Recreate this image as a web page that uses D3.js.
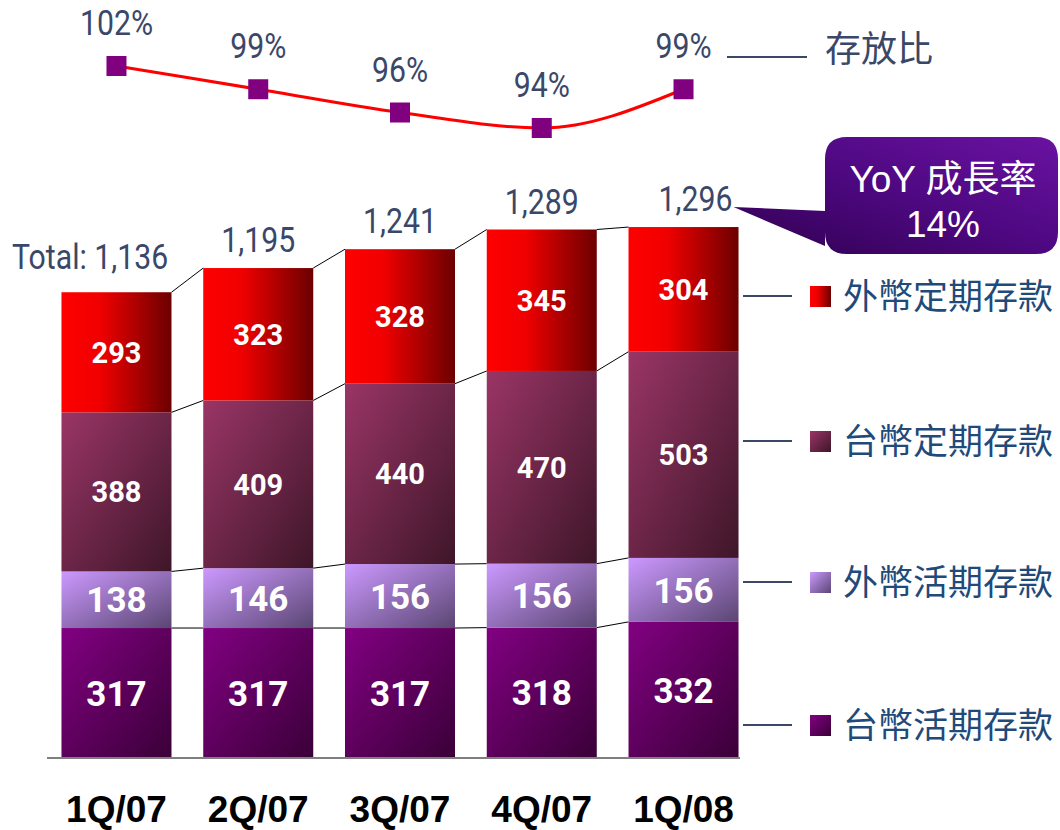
<!DOCTYPE html>
<html>
<head>
<meta charset="utf-8">
<script src="https://cdn.jsdelivr.net/npm/d3@7.9.0/dist/d3.min.js"></script>
<style>
  body { margin: 0; background: #fff; }
  svg { display: block; }
</style>
</head>
<body>
<svg id="chart" width="1060" height="830"></svg>
<script>
// quarters and deposit series (NT$ bn)
const quarters = ['1Q/07', '2Q/07', '3Q/07', '4Q/07', '1Q/08'];
const ntdDemand = [317, 317, 317, 318, 332];   // 台幣活期存款
const fxDemand = [138, 146, 156, 156, 156];    // 外幣活期存款
const ntdTime = [388, 409, 440, 470, 503];     // 台幣定期存款
const fxTime = [293, 323, 328, 345, 304];      // 外幣定期存款
const totals = [1136, 1195, 1241, 1289, 1296];
const ldr = [102, 99, 96, 94, 99];             // 存放比 %
const seriesNames = ['台幣活期存款', '外幣活期存款', '台幣定期存款', '外幣定期存款'];
const yoyText = ['YoY 成長率', '14%'];

const svg = d3.select('#chart');
const numFont = 'Roboto, "Liberation Sans", Arial, sans-serif';
const cjkFont = '"Noto Sans CJK TC", "Noto Sans CJK SC", sans-serif';
const textCol = '#3a4769';
const narrow = 0.84; // squeeze to mimic a condensed face

// gradients
const defs = svg.append('defs');
function grad(id, x1, y1, x2, y2, stops) {
  const g = defs.append('linearGradient').attr('id', id)
    .attr('x1', x1).attr('y1', y1).attr('x2', x2).attr('y2', y2);
  stops.forEach(s => g.append('stop').attr('offset', s[0]).attr('stop-color', s[1]));
}
grad('g0', 0, 0, 1, 1, [[0, '#820082'], [1, '#3a0038']]);
grad('g1', 0, 0, 1, 1, [[0, '#cc99ff'], [1, '#5a4672']]);
grad('g2', 0, 0, 1, 1, [[0, '#9a3566'], [1, '#3e1629']]);
grad('g3', 0, 0, 1, 0, [[0, '#ff0000'], [0.35, '#f00000'], [1, '#6c0000']]);
grad('gCall', 0, 1, 1, 0, [[0, '#30004f'], [0.5, '#4d0880'], [1, '#6a12a2']]);

const x = d3.scaleBand().domain(quarters).range([45.6, 754.4])
  .paddingInner(0.224).paddingOuter(0.112);
const y = d3.scaleLinear().domain([0, 1300]).range([758, 225]);
const yl = d3.scaleLinear().domain([94, 102]).range([128, 66]);
const bw = x.bandwidth();

const series = [ntdDemand, fxDemand, ntdTime, fxTime];
const stacked = d3.stack().keys([0, 1, 2, 3]).value((d, k) => series[k][d])(d3.range(quarters.length));

// connector lines between bars
stacked.forEach(layer => {
  for (let i = 0; i < quarters.length - 1; i++) {
    svg.append('line')
      .attr('x1', x(quarters[i]) + bw).attr('y1', y(layer[i][1]))
      .attr('x2', x(quarters[i + 1])).attr('y2', y(layer[i + 1][1]))
      .attr('stroke', '#000').attr('stroke-width', 1);
  }
});

// bars
const layers = svg.selectAll('g.layer').data(stacked).join('g').attr('class', 'layer')
  .attr('fill', (d, k) => `url(#g${k})`);
layers.selectAll('rect').data(d => d).join('rect')
  .attr('x', (d, i) => x(quarters[i]))
  .attr('y', d => y(d[1]))
  .attr('width', bw)
  .attr('height', d => y(d[0]) - y(d[1]));

// segment labels
stacked.forEach((layer, k) => {
  svg.append('g').selectAll('text').data(layer).join('text')
    .attr('x', (d, i) => x(quarters[i]) + bw / 2)
    .attr('y', d => (y(d[0]) + y(d[1])) / 2)
    .attr('dy', '0.36em')
    .attr('text-anchor', 'middle')
    .attr('fill', '#fff')
    .attr('font-family', 'Roboto, "Liberation Sans", Arial, sans-serif')
    .attr('font-weight', 'bold')
    .attr('font-size', k < 2 ? 35 : 29)
    .text((d, i) => series[k][i]);
});

// x axis
const axis = svg.append('g').attr('transform', 'translate(0,758)')
  .call(d3.axisBottom(x).tickSize(0).tickPadding(38));
axis.select('.domain').remove();
axis.selectAll('text')
  .attr('font-family', '"Liberation Sans", Arial, sans-serif')
  .attr('font-weight', 'bold').attr('font-size', 37).attr('fill', '#000');
svg.append('line').attr('x1', 47).attr('x2', 740).attr('y1', 758).attr('y2', 758)
  .attr('stroke', '#7f7f7f').attr('stroke-width', 2);

// totals
svg.append('g').selectAll('text').data(totals).join('text')
  .attr('transform', (d, i) => {
    const tx = i === 0 ? 12 : x(quarters[i]) + bw / 2 + (i === 4 ? 12 : 0);
    const ty = y(d) - (i === 0 ? 23 : 16);
    return `translate(${tx},${ty}) scale(${narrow},1)`;
  })
  .attr('text-anchor', (d, i) => i === 0 ? 'start' : 'middle')
  .attr('fill', textCol)
  .attr('font-family', numFont)
  .attr('font-size', 36)
  .text((d, i) => (i === 0 ? 'Total: ' : '') + d3.format(',')(d));

// loan-to-deposit line
const pts = ldr.map((v, i) => [x(quarters[i]) + bw / 2, yl(v)]);
svg.append('path')
  .attr('d', d3.line().curve(d3.curveMonotoneX)(pts))
  .attr('fill', 'none').attr('stroke', '#ff0000').attr('stroke-width', 3);
svg.append('g').selectAll('rect').data(pts).join('rect')
  .attr('x', d => d[0] - 10).attr('y', d => d[1] - 10)
  .attr('width', 20).attr('height', 20).attr('fill', '#800080');
svg.append('g').selectAll('text').data(ldr).join('text')
  .attr('transform', (d, i) => `translate(${pts[i][0]},${pts[i][1] - 31}) scale(${narrow},1)`)
  .attr('text-anchor', 'middle')
  .attr('fill', textCol)
  .attr('font-family', numFont)
  .attr('font-size', 36)
  .text(d => d + '%');

// line legend
svg.append('line').attr('x1', 727).attr('x2', 807).attr('y1', 57).attr('y2', 57)
  .attr('stroke', textCol).attr('stroke-width', 2);
svg.append('text').attr('x', 825).attr('y', 62)
  .attr('fill', textCol).attr('font-family', cjkFont).attr('font-size', 36)
  .text('存放比');

// bar legend, aligned to last bar's segments
const legY = [725, 582, 441, 296];
seriesNames.forEach((name, k) => {
  const g = svg.append('g').attr('transform', `translate(0,${legY[k]})`);
  g.append('line').attr('x1', 743).attr('x2', 792).attr('y1', 0).attr('y2', 0)
    .attr('stroke', textCol).attr('stroke-width', 2);
  g.append('rect').attr('x', 810).attr('y', -10).attr('width', 21).attr('height', 21)
    .attr('fill', `url(#g${k})`);
  g.append('text').attr('x', 843).attr('y', 0).attr('dy', '0.36em')
    .attr('fill', '#1f4a7a').attr('font-family', cjkFont).attr('font-size', 35)
    .text(name);
});

// YoY callout
const tipX = x(quarters[4]) + bw / 2 + 50, tipY = 207;
const cx0 = 825, cx1 = 1058, cy0 = 137, cy1 = 254, r = 22;
const callout = d3.path();
callout.moveTo(cx0 + r, cy0);
callout.lineTo(cx1 - r, cy0);
callout.quadraticCurveTo(cx1, cy0, cx1, cy0 + r);
callout.lineTo(cx1, cy1 - r);
callout.quadraticCurveTo(cx1, cy1, cx1 - r, cy1);
callout.lineTo(cx0 + r, cy1);
callout.quadraticCurveTo(cx0, cy1, cx0, cy1 - r);
callout.lineTo(cx0, 246);
callout.lineTo(tipX, tipY);
callout.lineTo(cx0, 211);
callout.lineTo(cx0, cy0 + r);
callout.quadraticCurveTo(cx0, cy0, cx0 + r, cy0);
svg.append('path').attr('d', callout.toString()).attr('fill', 'url(#gCall)');
yoyText.forEach((t, i) => {
  svg.append('text').attr('x', 943).attr('y', 192 + i * 45)
    .attr('text-anchor', 'middle').attr('fill', '#fff')
    .attr('font-family', '"Liberation Sans", ' + cjkFont).attr('font-size', 37)
    .text(t);
});
</script>
</body>
</html>
